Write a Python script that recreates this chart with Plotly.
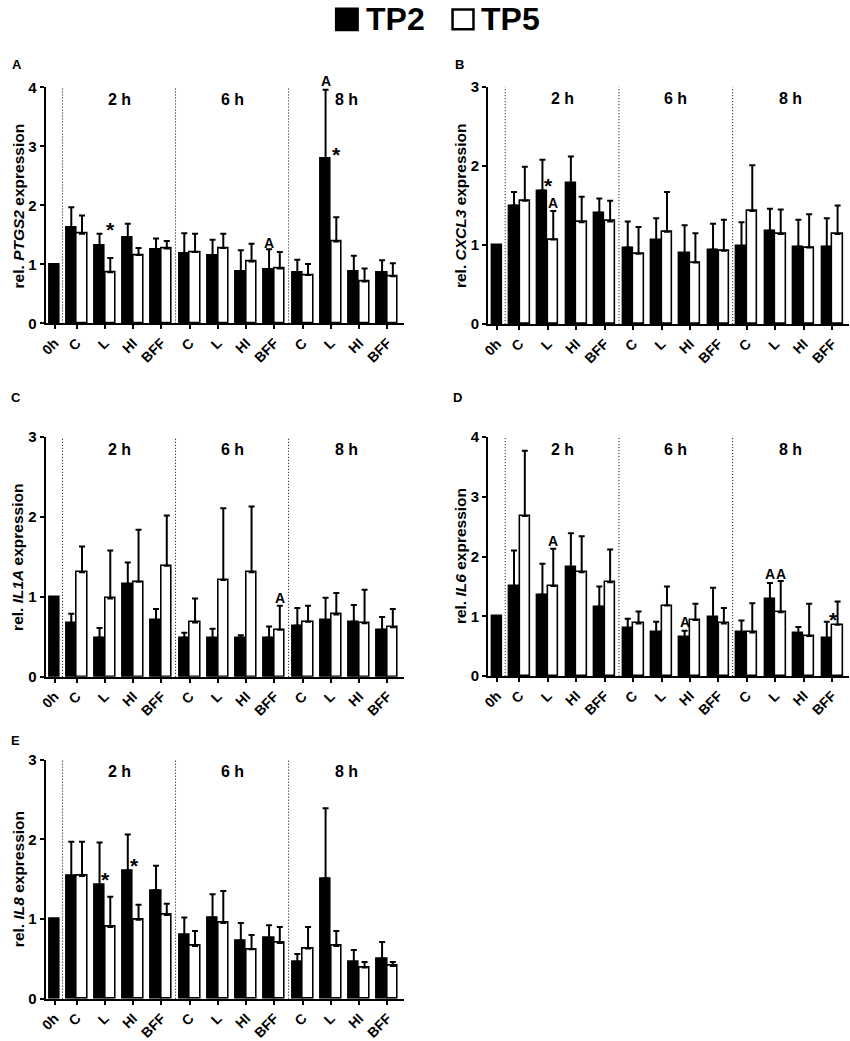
import plotly.graph_objects as go

W, H = 850, 1041
FONT = "Liberation Sans, Arial, sans-serif"

GROUPS = ["C", "L", "HI", "BFF"]
HOURS = ["2 h", "6 h", "8 h"]
TICK_LABELS = ["0h"] + GROUPS * 3
BASELINE = 1.0  # 0h value, single TP2 bar

# values: 2h C L HI BFF, 6h C L HI BFF, 8h C L HI BFF
ptgs2_tp2 = [1.62, 1.33, 1.46, 1.25, 1.19, 1.15, 0.89, 0.92, 0.87, 2.80, 0.88, 0.86]
ptgs2_tp2_sd = [0.35, 0.19, 0.23, 0.19, 0.34, 0.27, 0.35, 0.34, 0.21, 1.16, 0.27, 0.21]
ptgs2_tp5 = [1.52, 0.87, 1.16, 1.27, 1.21, 1.28, 1.05, 0.93, 0.82, 1.39, 0.71, 0.80]
ptgs2_tp5_sd = [0.31, 0.24, 0.12, 0.13, 0.31, 0.24, 0.30, 0.28, 0.19, 0.41, 0.22, 0.22]

cxcl3_tp2 = [1.50, 1.69, 1.78, 1.41, 0.97, 1.06, 0.90, 0.94, 0.99, 1.18, 0.98, 0.98]
cxcl3_tp2_sd = [0.17, 0.39, 0.34, 0.18, 0.33, 0.28, 0.35, 0.33, 0.30, 0.28, 0.34, 0.36]
cxcl3_tp5 = [1.56, 1.07, 1.29, 1.30, 0.89, 1.17, 0.78, 0.93, 1.43, 1.14, 0.97, 1.14]
cxcl3_tp5_sd = [0.43, 0.36, 0.32, 0.26, 0.34, 0.50, 0.37, 0.39, 0.58, 0.31, 0.42, 0.36]

il1a_tp2 = [0.67, 0.49, 1.16, 0.71, 0.49, 0.48, 0.49, 0.49, 0.64, 0.71, 0.69, 0.59]
il1a_tp2_sd = [0.12, 0.12, 0.27, 0.14, 0.06, 0.12, 0.03, 0.14, 0.22, 0.28, 0.21, 0.16]
il1a_tp5 = [1.31, 0.98, 1.19, 1.39, 0.68, 1.21, 1.31, 0.59, 0.69, 0.78, 0.67, 0.62]
il1a_tp5_sd = [0.32, 0.60, 0.65, 0.63, 0.30, 0.90, 0.82, 0.30, 0.20, 0.27, 0.42, 0.23]

il6_tp2 = [1.51, 1.36, 1.82, 1.16, 0.80, 0.73, 0.65, 0.99, 0.73, 1.29, 0.72, 0.63]
il6_tp2_sd = [0.59, 0.52, 0.57, 0.34, 0.16, 0.18, 0.11, 0.49, 0.20, 0.27, 0.10, 0.28]
il6_tp5 = [2.68, 1.51, 1.74, 1.57, 0.88, 1.18, 0.94, 0.88, 0.73, 1.07, 0.67, 0.86]
il6_tp5_sd = [1.09, 0.62, 0.60, 0.55, 0.20, 0.32, 0.27, 0.26, 0.49, 0.52, 0.54, 0.39]

il8_tp2 = [1.54, 1.43, 1.61, 1.36, 0.80, 1.02, 0.73, 0.76, 0.46, 1.51, 0.46, 0.50]
il8_tp2_sd = [0.43, 0.53, 0.45, 0.31, 0.22, 0.29, 0.22, 0.16, 0.10, 0.88, 0.15, 0.21]
il8_tp5 = [1.54, 0.90, 0.99, 1.05, 0.66, 0.95, 0.62, 0.70, 0.63, 0.66, 0.39, 0.41]
il8_tp5_sd = [0.43, 0.38, 0.19, 0.14, 0.19, 0.40, 0.18, 0.20, 0.27, 0.19, 0.07, 0.05]

# significance marks: (bar index 1-12, series, y, text)
ptgs2_marks = [(2, "TP5", 1.68, "*"), (8, "TP2", 1.37, "A"), (10, "TP2", 4.11, "A"), (10, "TP5", 2.95, "*")]
cxcl3_marks = [(2, "TP5m", 1.82, "*"), (2, "TP5", 1.53, "A")]
il1a_marks = [(8, "TP5", 0.99, "A")]
il6_marks = [(2, "TP5", 2.26, "A"), (7, "TP2", 0.91, "A"), (10, "TP2", 1.71, "A"),
             (10, "TP5", 1.71, "A"), (12, "TP5m", 1.03, "*")]
il8_marks = [(2, "TP5m", 1.56, "*"), (3, "TP5m", 1.73, "*")]

# panel layout in pixels: (letter, gene, ymax, data..., marks, x0, x1, ytop, ybottom, letter pos)
panels = [
    ("A", "PTGS2", 4, ptgs2_tp2, ptgs2_tp2_sd, ptgs2_tp5, ptgs2_tp5_sd, ptgs2_marks,
     41.7, 401.7, 85.5, 323.3, (13, 62)),
    ("B", "CXCL3", 3, cxcl3_tp2, cxcl3_tp2_sd, cxcl3_tp5, cxcl3_tp5_sd, cxcl3_marks,
     485.7, 848, 85, 324, (457, 62)),
    ("C", "IL1A", 3, il1a_tp2, il1a_tp2_sd, il1a_tp5, il1a_tp5_sd, il1a_marks,
     41.7, 401.7, 437.7, 679.2, (12, 398)),
    ("D", "IL6", 4, il6_tp2, il6_tp2_sd, il6_tp5, il6_tp5_sd, il6_marks,
     485.7, 848, 437.7, 678.5, (455, 398)),
    ("E", "IL8", 3, il8_tp2, il8_tp2_sd, il8_tp5, il8_tp5_sd, il8_marks,
     41.7, 401.7, 762.7, 1003.4, (12, 743)),
]

ZERO_POS = 0.22
OFF = 0.19
BAR_W = 0.36
positions = list(range(1, 13))
tick_vals = [ZERO_POS] + positions

# the photographed page comes out slightly shrunk and shifted; undo that here
SX, OX = 0.995, 3.0
SY, OY = 0.987, 6.5


def px(x):
    return (x - OX) / SX / W


def py(y):
    return 1 - (y - OY) / SY / H


fig = go.Figure()
annotations = []
shapes = []
layout = {}

for k, (letter, gene, ymax, tp2, tp2_sd, tp5, tp5_sd, marks, x0, x1, yt, yb, lpos) in enumerate(panels, start=1):
    sfx = "" if k == 1 else str(k)
    xa, ya = "x" + sfx, "y" + sfx
    unit_px = (yb - yt) / SY / ymax

    fig.add_trace(go.Bar(
        x=[ZERO_POS] + [p - OFF for p in positions],
        y=[BASELINE] + tp2,
        width=[0.35] + [BAR_W] * 12,
        marker=dict(color="black", line=dict(color="black", width=1.5)),
        error_y=dict(type="data", symmetric=False, array=[0] + tp2_sd, arrayminus=[0] * 13,
                     color="black", thickness=2, width=3),
        xaxis=xa, yaxis=ya, name="TP2", showlegend=False,
    ))
    fig.add_trace(go.Bar(
        x=[p + OFF for p in positions],
        y=tp5,
        width=[BAR_W] * 12,
        marker=dict(color="white", line=dict(color="black", width=1.6)),
        error_y=dict(type="data", symmetric=False, array=tp5_sd, arrayminus=[0] * 12,
                     color="black", thickness=2, width=3),
        xaxis=xa, yaxis=ya, name="TP5", showlegend=False,
    ))

    layout["xaxis" + sfx] = dict(
        domain=[px(x0), px(x1)], anchor=ya, range=[-0.1, 12.6],
        showline=True, linecolor="black", linewidth=2, showgrid=False, zeroline=False,
        ticks="outside", ticklen=4, tickwidth=1.5, tickcolor="black",
        tickvals=tick_vals, ticktext=TICK_LABELS, tickangle=-45,
        tickfont=dict(family=FONT, size=14, color="black", weight="bold"),
    )
    layout["yaxis" + sfx] = dict(
        domain=[py(yb), py(yt)], anchor=xa, range=[0, ymax],
        showline=True, linecolor="black", linewidth=2, showgrid=False, zeroline=False,
        ticks="outside", ticklen=4, tickwidth=1.5, tickcolor="black", dtick=1,
        tickfont=dict(family=FONT, size=15, color="black", weight="bold"),
    )

    # dotted dividers between 0h and the time blocks
    for xd in (0.5, 4.5, 8.5):
        shapes.append(dict(type="line", xref=xa, yref=ya + " domain", x0=xd, x1=xd, y0=0, y1=1,
                           line=dict(color="black", width=1, dash="1px,2px")))

    for hx, label in zip((2.5, 6.5, 10.55), HOURS):
        annotations.append(dict(xref=xa, yref=ya + " domain", x=hx, y=1, yshift=-12,
                                text=label, showarrow=False, yanchor="middle",
                                font=dict(family=FONT, size=16, color="black", weight="bold")))

    for idx, series, yv, txt in marks:
        xm = idx - OFF if series == "TP2" else idx + OFF
        if series == "TP5m":
            xm = idx + 0.03
        star = txt == "*"
        # marks above the axis top would be hidden, so pin them to the top and shift up
        extra = max(0.0, yv - ymax) * unit_px
        annotations.append(dict(xref=xa, yref=ya, x=xm, y=min(yv, ymax), text=txt,
                                showarrow=False, yanchor="middle",
                                yshift=(-5 if star else 0) + extra,
                                font=dict(family=FONT, size=21 if star else 14,
                                          color="black", weight="bold")))

    # y title with italic gene name
    tx = 14 if x0 < 100 else 458
    annotations.append(dict(xref="paper", yref="paper", x=px(tx), y=py((yt + yb) / 2),
                            text=f"rel. <i>{gene}</i> expression", textangle=-90,
                            showarrow=False, xanchor="center", yanchor="middle",
                            font=dict(family=FONT, size=15.5, color="black", weight="bold")))

    annotations.append(dict(xref="paper", yref="paper", x=px(lpos[0]), y=py(lpos[1]),
                            text=letter, showarrow=False, xanchor="center", yanchor="middle",
                            font=dict(family=FONT, size=13, color="black", weight="bold")))

# legend drawn by hand: big squares and labels
shapes.append(dict(type="rect", xref="paper", yref="paper", x0=px(333), x1=px(355),
                   y0=py(28), y1=py(6), fillcolor="black", line=dict(color="black", width=2)))
shapes.append(dict(type="rect", xref="paper", yref="paper", x0=px(450), x1=px(471),
                   y0=py(27), y1=py(7), fillcolor="white", line=dict(color="black", width=2.5)))
for lx, label in ((361, "TP2"), (477, "TP5")):
    annotations.append(dict(xref="paper", yref="paper", x=px(lx), y=py(17), text=label,
                            showarrow=False, xanchor="left", yanchor="middle",
                            font=dict(family=FONT, size=32, color="black", weight="bold")))

fig.update_layout(
    width=W, height=H,
    margin=dict(l=0, r=0, t=0, b=0),
    paper_bgcolor="white", plot_bgcolor="white",
    barmode="overlay", bargap=0,
    showlegend=False,
    annotations=annotations, shapes=shapes,
    **layout,
)

fig.write_html(
    "out.html",
    config={"displayModeBar": False},
    post_script="document.body.style.margin='0';"
                "document.documentElement.style.overflow='hidden';"
                "document.body.style.overflow='hidden';",
)
